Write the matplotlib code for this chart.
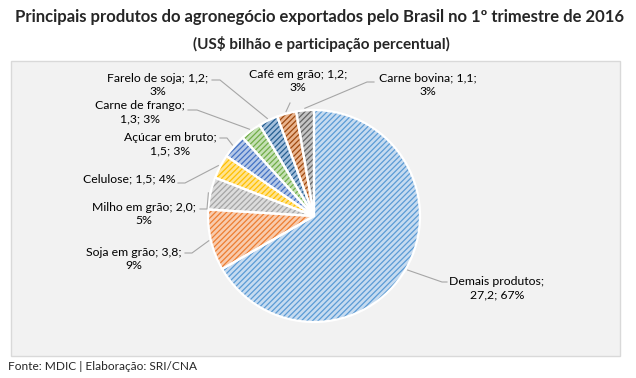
import numpy as np
import matplotlib.pyplot as plt
from matplotlib.patches import Rectangle
from matplotlib.lines import Line2D

# --- Data (US$ bilhão, share) ---
PRODUCTS = ['Demais produtos', 'Soja em grão', 'Milho em grão', 'Celulose',
            'Açúcar em bruto', 'Carne de frango', 'Farelo de soja',
            'Café em grão', 'Carne bovina']
VALUES = [27.2, 3.8, 2.0, 1.5, 1.5, 1.3, 1.2, 1.2, 1.1]
PCTS = [67, 9, 5, 4, 3, 3, 3, 3, 3]

TITLE = 'Principais produtos do agronegócio exportados pelo Brasil no 1º trimestre de 2016'
SUBTITLE = '(US$ bilhão e participação percentual)'
SOURCE = 'Fonte: MDIC | Elaboração: SRI/CNA'

# --- Style (Excel office palette, pattern fill) ---
FACES = ['#c6dbf0', '#f8cbad', '#dcdcdc', '#ffe38f', '#b4c7e7',
         '#c5e0b4', '#a3bfdc', '#e9b48e', '#c4c4c4']
HATCHES = ['#5b9bd5', '#ed7d31', '#a5a5a5', '#ffc000', '#4472c4',
           '#70ad47', '#255e91', '#9e480e', '#636363']
# where the label text wraps: after the name, after the value, or not at all
BREAKS = ['name', 'value', 'value', 'none', 'name', 'name', 'value', 'value', 'value']

W, H = 636, 378
CX, CY, R = 314, 216, 106  # pie centre / radius in pixels (y from top)

# label centres and leader (elbow, anchor) points, pixels from top-left
TEXT_POS = [(497, 288), (134, 259), (144, 214), (129, 179), (170, 144),
            (140, 112), (158, 85), (298, 81), (428, 85)]
ELBOWS = [(442, 282), (192, 253), (207, 209), (185, 183), (227, 138),
          (197, 110), (220, 80), (290, 103), (367, 82)]
ANCHORS = [(447, 282), (185, 253), (200, 209), (178, 183), (220, 138),
           (188, 110), (212, 80), (290, 103), (374, 82)]

plt.rcParams['font.family'] = ['Lato', 'DejaVu Sans']
plt.rcParams['hatch.linewidth'] = 0.9


def fig_xy(x, y):
    """pixel coords (top-left origin) -> figure fraction"""
    return x / W, 1 - y / H


def fmt(v):
    return f'{v:.1f}'.replace('.', ',')


fig = plt.figure(figsize=(W / 100, H / 100), dpi=100)
fig.patch.set_facecolor('white')

# grey chart panel
x0, y0 = fig_xy(11, 356)
fig.add_artist(Rectangle((x0, y0), (620 - 11) / W, (356 - 61) / H,
                         transform=fig.transFigure, facecolor='#f2f2f2',
                         edgecolor='#d9d9d9', linewidth=1.0, zorder=0))

fig.text(*fig_xy(319, 17), TITLE, ha='center', va='center',
         fontsize=12, fontweight='bold', color='#262626')
fig.text(*fig_xy(321, 44), SUBTITLE, ha='center', va='center',
         fontsize=11, fontweight='bold', color='#262626')
fig.text(*fig_xy(8, 366), SOURCE, ha='left', va='center',
         fontsize=8.6, color='#262626')

# --- Pie ---
ax = fig.add_axes([(CX - R) / W, (H - CY - R) / H, 2 * R / W, 2 * R / H])
wedges, _ = ax.pie(VALUES, radius=1, startangle=90, counterclock=False,
                   colors=FACES, wedgeprops=dict(linewidth=0, hatch='//////'))
for w, hc in zip(wedges, HATCHES):
    w.set_edgecolor(hc)   # hatch colour follows edgecolor
    w.set_linewidth(0)
# white separators on top
ax.pie(VALUES, radius=1, startangle=90, counterclock=False,
       wedgeprops=dict(fill=False, edgecolor='white', linewidth=1.6))
ax.set_xlim(-1, 1)
ax.set_ylim(-1, 1)
ax.axis('off')

# --- Labels with leader lines ---
to_fig = ax.transData + fig.transFigure.inverted()
for i, w in enumerate(wedges):
    mid = np.deg2rad((w.theta1 + w.theta2) / 2)
    px, py = to_fig.transform((1.02 * np.cos(mid), 1.02 * np.sin(mid)))
    ex, ey = fig_xy(*ELBOWS[i])
    axx, ayy = fig_xy(*ANCHORS[i])
    fig.add_artist(Line2D([px, ex, axx], [py, ey, ayy], transform=fig.transFigure,
                          color='#a6a6a6', linewidth=0.8, zorder=1))

    name, val, pct = PRODUCTS[i], fmt(VALUES[i]), f'{PCTS[i]}%'
    if BREAKS[i] == 'name':
        label = f'{name};\n{val}; {pct}'
    elif BREAKS[i] == 'value':
        label = f'{name}; {val};\n{pct}'
    else:
        label = f'{name}; {val}; {pct}'
    fig.text(*fig_xy(*TEXT_POS[i]), label, ha='center', va='center',
             multialignment='center', fontsize=8.8, color='#000000',
             linespacing=1.3, zorder=3)

fig.savefig('out.png', dpi=100)
